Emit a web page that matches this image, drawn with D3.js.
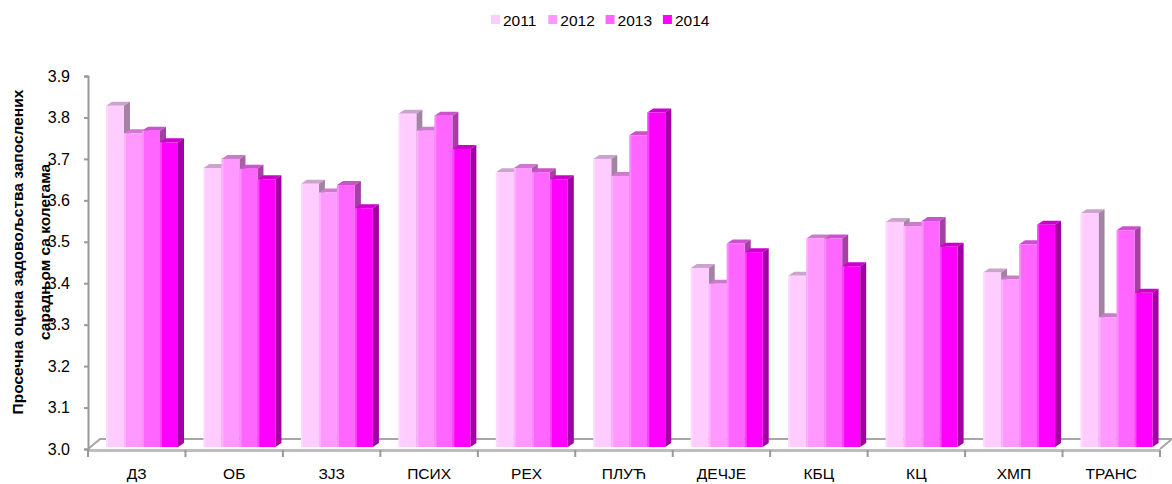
<!DOCTYPE html>
<html>
<head>
<meta charset="utf-8">
<script src="https://cdn.jsdelivr.net/npm/d3@7"></script>
<style>
  body { margin: 0; background: #fff; }
  text { font-family: "Liberation Sans", Arial, sans-serif; }
</style>
</head>
<body>
<div id="chart"></div>
<script>
// data
var categories = ["ДЗ", "ОБ", "ЗЈЗ", "ПСИХ", "РЕХ", "ПЛУЋ", "ДЕЧЈЕ", "КБЦ", "КЦ", "ХМП", "ТРАНС"];
var years = ["2011", "2012", "2013", "2014"];
var v2011 = [3.828, 3.678, 3.640, 3.809, 3.668, 3.700, 3.437, 3.418, 3.548, 3.426, 3.569];
var v2012 = [3.762, 3.700, 3.619, 3.768, 3.678, 3.659, 3.399, 3.508, 3.538, 3.409, 3.318];
var v2013 = [3.768, 3.676, 3.637, 3.804, 3.668, 3.757, 3.496, 3.508, 3.550, 3.494, 3.528];
var v2014 = [3.740, 3.651, 3.581, 3.724, 3.651, 3.812, 3.475, 3.441, 3.488, 3.541, 3.377];
var yTicks = [3.0, 3.1, 3.2, 3.3, 3.4, 3.5, 3.6, 3.7, 3.8, 3.9];
var colors = ["#FFCCFF", "#FF99FF", "#FF66FF", "#FF00FF"];

var series = [v2011, v2012, v2013, v2014];

var width = 1172, height = 484;
var svg = d3.select("#chart").append("svg")
  .attr("width", width).attr("height", height);

var x = d3.scaleBand().domain(categories).range([88, 1160]);
var xi = d3.scaleBand().domain(years).range([18, 90]);
var y = d3.scaleLinear().domain([3.0, 3.9]).range([449, 76]);

var dx = 6, dy = -4; // bar depth
var fdx = 12, fdy = -10; // floor depth

// floor
var floor = svg.append("g");
floor.append("path")
  .attr("d", "M" + x.range()[0] + "," + y(3.0) + " L" + (x.range()[0] + fdx) + "," + (y(3.0) + fdy)
    + " L" + (x.range()[1] + fdx) + "," + (y(3.0) + fdy) + " L" + x.range()[1] + "," + y(3.0))
  .attr("fill", "none").attr("stroke", "#a6a6a6").attr("stroke-width", 2);
floor.append("line")
  .attr("x1", x.range()[0]).attr("x2", x.range()[1])
  .attr("y1", y(3.0) + 1.5).attr("y2", y(3.0) + 1.5)
  .attr("stroke", "#bdbdbd").attr("stroke-width", 3);

// bars
var bars = svg.append("g");
categories.forEach(function(c, ci) {
  years.forEach(function(yr, si) {
    var v = series[si][ci];
    var x0 = x(c) + xi(yr), w = xi.bandwidth();
    var yt = y(v), yb = y(3.0) - 2;
    var col = d3.color(colors[si]);
    var topCol = d3.rgb(col.r * 0.8, col.g * 0.8, col.b * 0.8);
    var sideCol = d3.rgb(col.r * 0.64, col.g * 0.64, col.b * 0.64);
    bars.append("path")
      .attr("d", "M" + x0 + "," + yt + " L" + (x0 + dx) + "," + (yt + dy) + " L" + (x0 + w + dx) + "," + (yt + dy)
        + " L" + (x0 + w) + "," + yt + "Z")
      .attr("fill", topCol);
    bars.append("path")
      .attr("d", "M" + (x0 + w) + "," + yt + " L" + (x0 + w + dx) + "," + (yt + dy) + " L" + (x0 + w + dx) + "," + (yb + dy)
        + " L" + (x0 + w) + "," + yb + "Z")
      .attr("fill", sideCol);
    bars.append("rect")
      .attr("x", x0).attr("y", yt).attr("width", w).attr("height", yb - yt)
      .attr("fill", colors[si]);
    bars.append("rect")
      .attr("x", x0).attr("y", yt).attr("width", 2).attr("height", yb - yt)
      .attr("fill", "#fff").attr("opacity", 0.25);
  });
});

// y axis
var yAxis = d3.axisLeft(y).tickValues(yTicks).tickFormat(d3.format(".1f")).tickSize(4).tickPadding(14);
var ya = svg.append("g").attr("transform", "translate(88,0)").call(yAxis);
ya.select(".domain").attr("stroke", "#999").attr("stroke-width", 2);
ya.selectAll(".tick line").attr("stroke", "#999").attr("stroke-width", 2);
ya.selectAll(".tick text").attr("fill", "#000").style("font-size", "16px")
  .style("font-family", "'Liberation Sans', Arial, sans-serif");

// x axis
var xAxis = d3.axisBottom(x).tickSize(0).tickPadding(17);
var xa = svg.append("g").attr("transform", "translate(0," + (y(3.0) + 2) + ")").call(xAxis);
xa.select(".domain").remove();
xa.selectAll(".tick text").attr("fill", "#000").style("font-size", "15.5px")
  .style("font-family", "'Liberation Sans', Arial, sans-serif");
svg.append("g").selectAll("line").data(categories.concat(["end"])).enter().append("line")
  .attr("x1", function(d, i) { return x.range()[0] + i * x.step(); })
  .attr("x2", function(d, i) { return x.range()[0] + i * x.step(); })
  .attr("y1", y(3.0) + 1).attr("y2", y(3.0) + 8)
  .attr("stroke", "#999").attr("stroke-width", 2);

// y title
var title = svg.append("text")
  .attr("transform", "translate(23,252) rotate(-90)")
  .attr("text-anchor", "middle")
  .style("font-size", "15.5px").style("font-weight", "bold");
title.append("tspan").attr("x", 0).attr("y", 0).text("Просечна оцена задовољства запослених");
title.append("tspan").attr("x", 0).attr("y", 27).text("сарадњом са колегама");

// legend
var legend = svg.append("g");
years.forEach(function(yr, i) {
  var lx = 491 + i * 57.3;
  legend.append("rect").attr("x", lx).attr("y", 15).attr("width", 9).attr("height", 9).attr("fill", colors[i]);
  legend.append("text").attr("x", lx + 12).attr("y", 25.5).style("font-size", "15.5px").text(yr);
});
</script>
</body>
</html>
